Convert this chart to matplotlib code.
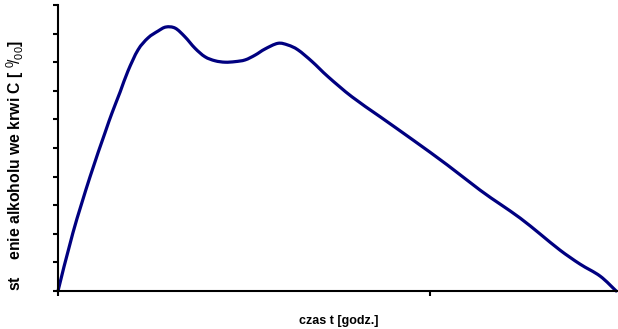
import matplotlib
matplotlib.use('Agg')
import numpy as np
import matplotlib.pyplot as plt
from matplotlib.path import Path
from matplotlib.patches import PathPatch

# czas [godz.] i stezenie alkoholu
czas = [0.0, 0.040, 0.086, 0.126, 0.145, 0.167, 0.188, 0.215, 0.242, 0.269,
        0.290, 0.315, 0.341, 0.368, 0.395, 0.422, 0.449, 0.476, 0.503, 0.530,
        0.556, 0.591, 0.618, 0.645, 0.683, 0.726, 0.790, 0.866, 0.954, 1.046,
        1.134, 1.188, 1.242, 1.296, 1.349, 1.403, 1.457, 1.500]
stezenie = [0.0, 2.03, 3.99, 5.52, 6.22, 6.96, 7.69, 8.43, 8.85, 9.09,
            9.23, 9.19, 8.89, 8.49, 8.19, 8.05, 8.00, 8.02, 8.08, 8.25,
            8.46, 8.66, 8.60, 8.43, 8.02, 7.49, 6.79, 6.09, 5.28, 4.41,
            3.53, 3.04, 2.55, 1.99, 1.43, 0.94, 0.52, 0.0]
x_ticks = [0, 1]
y_ticks = list(range(0, 11))


def smooth_path(xs, ys, k=1 / 6):
    """Bezier path through the points (like a smoothed line in a spreadsheet)."""
    pts = np.column_stack([xs, ys])
    verts = [pts[0]]
    codes = [Path.MOVETO]
    n = len(pts)
    for i in range(n - 1):
        p0 = pts[max(i - 1, 0)]
        p1 = pts[i]
        p2 = pts[i + 1]
        p3 = pts[min(i + 2, n - 1)]
        verts += [p1 + (p2 - p0) * k, p2 - (p3 - p1) * k, p2]
        codes += [Path.CURVE4] * 3
    return Path(verts, codes)


plt.rcParams['font.family'] = ['Liberation Sans', 'DejaVu Sans']
plt.rcParams['mathtext.fontset'] = 'custom'
plt.rcParams['mathtext.rm'] = 'Liberation Sans'
plt.rcParams['mathtext.bf'] = 'Liberation Sans:bold'

W, H = 618, 329
fig = plt.figure(figsize=(W / 100, H / 100), dpi=100)
ax = fig.add_axes([58 / W, (H - 291) / H, (618 - 58) / W, (291 - 5) / H])

ax.add_patch(PathPatch(smooth_path(czas, stezenie), facecolor='none',
                       edgecolor='#000080', lw=2.3, capstyle='round',
                       joinstyle='round', clip_on=False))

ax.set_xlim(0, 1.505)
ax.set_ylim(0, 10)
ax.set_xticks(x_ticks)
ax.set_yticks(y_ticks)
ax.set_xticklabels([])
ax.set_yticklabels([])
ax.tick_params(direction='out', length=3.6, width=1.5, color='black')

for side in ['top', 'right']:
    ax.spines[side].set_visible(False)
for side in ['left', 'bottom']:
    ax.spines[side].set_linewidth(1.5)

fig.text(339 / W, 1 - 321 / H, 'czas t [godz.]', ha='center', va='center',
         fontsize=9, fontweight='bold')
fig.text(15 / W, 1 - 291 / H, r'st    enie alkoholu we krwi C [ $^{0}\!/_{00}$]',
         ha='center', va='bottom', rotation=90, fontsize=11.3, fontweight='bold')

fig.savefig('out.png', dpi=100)
